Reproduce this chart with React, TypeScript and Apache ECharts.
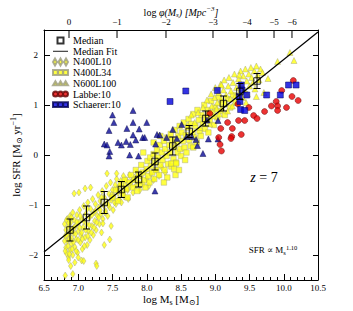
import React, { useEffect, useRef } from 'react';
import * as echarts from 'echarts';

const SERIF = "'Liberation Serif', 'DejaVu Serif', serif";

// Median points with error bars
const medianMs = [6.88, 7.12, 7.38, 7.63, 7.88, 8.12, 8.38, 8.62, 8.86, 9.12, 9.36, 9.61];
const medianSfr = [-1.5, -1.25, -0.95, -0.69, -0.49, -0.13, 0.18, 0.47, 0.73, 1.03, 1.27, 1.48];
const medianErr = [0.22, 0.23, 0.22, 0.16, 0.15, 0.17, 0.18, 0.12, 0.15, 0.15, 0.16, 0.15];

// Median fit line (slope 1.10)
const fitMs = [6.5, 10.5];
const fitSfr = [-1.94, 2.46];

// Top axis: log phi(Ms) tick positions (in log Ms) and labels
const topTickMs = [6.865, 7.566, 8.281, 8.967, 9.464, 9.858, 10.12];
const topTickLabels = ['0', '\u22121', '\u22122', '\u22123', '\u22124', '\u22125', '\u22126'];

const n400l10 = [
  [6.80, -1.38], [6.81, -1.62], [6.82, -1.85], [6.82, -1.50], [6.83, -1.97], [6.84, -1.28], [6.84, -1.72], [6.85, -1.44], [6.86, -2.05], [6.86, -1.58],
  [6.88, -1.22], [6.88, -1.90], [6.89, -1.35], [6.90, -1.66], [6.90, -1.78], [6.91, -1.48], [6.92, -2.00], [6.92, -1.15], [6.93, -1.56], [6.94, -1.30],
  [6.95, -1.84], [6.96, -1.42], [6.97, -1.68], [6.98, -1.20], [6.99, -1.95], [7.00, -1.52], [7.01, -1.35], [7.02, -1.10], [7.03, -1.75], [7.04, -1.60],
  [7.05, -1.28], [7.06, -1.88], [7.07, -1.45], [7.08, -1.02], [7.10, -1.65], [7.11, -1.18], [7.12, -1.38], [7.13, -1.80], [7.14, -0.95], [7.15, -1.52],
  [7.16, -1.25], [7.17, -1.70], [7.18, -1.08], [7.20, -1.42], [7.21, -0.88], [7.22, -1.60], [7.23, -1.15], [7.24, -1.32], [7.25, -0.98], [7.26, -1.50],
  [7.28, -1.22], [7.29, -0.80], [7.30, -1.05], [7.31, -1.38], [7.32, -0.92], [7.33, -1.18], [7.35, -0.72], [7.36, -1.28], [7.37, -1.00], [7.38, -0.85],
  [7.40, -1.12], [7.41, -0.62], [7.42, -0.95], [7.43, -1.22], [7.45, -0.78], [7.46, -1.05], [7.47, -0.55], [7.48, -0.90], [7.50, -0.70], [7.51, -1.10],
  [7.52, -0.82], [7.54, -0.60], [7.55, -0.98], [7.56, -0.48], [7.58, -0.75], [7.59, -0.88], [7.60, -0.62], [7.62, -0.52], [7.63, -0.95], [7.64, -0.72],
  [7.66, -0.42], [7.67, -0.83], [7.68, -0.60], [7.70, -0.50], [7.72, -0.70], [7.73, -0.88], [7.75, -0.40], [7.76, -0.62], [7.78, -0.52], [7.80, -0.75],
  [7.82, -0.45], [7.84, -0.62], [7.86, -0.35], [7.88, -0.55], [7.90, -0.70], [7.92, -0.42], [7.95, -0.58], [7.98, -0.32], [8.00, -0.48], [8.03, -0.62],
  [8.06, -0.38], [8.10, -0.50], [8.14, -0.30], [8.18, -0.42], [8.22, -0.25], [8.27, -0.35],
  [6.80, -1.72], [6.81, -1.92], [6.83, -1.30], [6.83, -1.60], [6.85, -1.82], [6.86, -1.36], [6.87, -1.68], [6.87, -1.98], [6.89, -1.52], [6.90, -1.25],
  [6.91, -1.88], [6.93, -1.74], [6.94, -1.45], [6.96, -1.58], [6.97, -1.92], [6.98, -1.34], [7.00, -1.70], [7.02, -1.45], [7.03, -1.22], [7.05, -1.55],
  [7.06, -1.68], [7.08, -1.32], [7.09, -1.82], [7.11, -1.50], [7.13, -1.08], [7.14, -1.62], [7.16, -1.40], [7.19, -1.55], [7.20, -1.20], [7.23, -1.45],
  [7.25, -1.12], [7.27, -1.35], [7.30, -1.25], [7.32, -1.10], [7.34, -0.85], [7.39, -1.15], [7.44, -1.00], [7.49, -0.80], [7.53, -0.95], [7.57, -0.68],
  [6.81, -2.41], [6.92, -2.38], [6.89, -2.22], [7.05, -2.11], [7.08, -2.12], [7.26, -2.17], [7.27, -2.22], [7.46, -1.69], [7.38, -1.80], [7.34, -1.55],
  [7.36, -1.37], [7.48, -1.42], [6.94, -0.77], [7.01, -0.75], [7.10, -0.67], [7.18, -0.65], [7.42, -0.37], [7.56, -0.37], [6.86, -2.10], [6.95, -2.15], [7.00, -2.05],
];

const n400l34 = [
  [7.50, -0.85], [7.55, -0.70], [7.58, -0.92], [7.62, -0.60], [7.65, -0.78], [7.68, -0.50], [7.70, -0.68], [7.72, -0.85], [7.75, -0.55], [7.77, -0.40],
  [7.80, -0.65], [7.82, -0.50], [7.84, -0.30], [7.86, -0.72], [7.88, -0.42], [7.90, -0.58], [7.92, -0.20], [7.94, -0.35], [7.96, -0.50], [7.98, -0.65],
  [8.00, -0.28], [8.01, -0.12], [8.02, -0.42], [8.04, -0.55], [8.05, -0.05], [8.06, -0.22], [8.08, -0.35], [8.10, 0.02], [8.11, -0.48], [8.12, -0.15],
  [8.14, -0.30], [8.15, 0.10], [8.16, -0.05], [8.18, -0.40], [8.19, 0.20], [8.20, -0.20], [8.22, 0.05], [8.23, -0.10], [8.25, 0.28], [8.26, -0.30],
  [8.27, 0.12], [8.29, -0.02], [8.30, 0.35], [8.31, -0.18], [8.33, 0.20], [8.34, 0.05], [8.35, 0.42], [8.36, -0.23], [8.37, 0.30], [8.39, -0.08],
  [8.40, 0.15], [8.41, 0.50], [8.43, -0.15], [8.44, 0.25], [8.45, 0.05], [8.46, 0.38], [8.48, 0.58], [8.49, 0.12], [8.50, -0.02], [8.51, 0.45],
  [8.53, 0.28], [8.54, 0.65], [8.55, 0.15], [8.57, 0.40], [8.58, 0.05], [8.60, 0.55], [8.61, 0.72], [8.62, 0.30], [8.64, 0.18], [8.65, 0.62],
  [8.67, 0.45], [8.68, 0.82], [8.70, 0.35], [8.71, 0.58], [8.73, 0.25], [8.74, 0.90], [8.76, 0.70], [8.77, 0.48], [8.79, 0.38], [8.80, 0.80],
  [8.82, 0.62], [8.84, 1.00], [8.85, 0.52], [8.87, 0.75], [8.89, 0.90], [8.90, 0.45], [8.92, 0.68], [8.94, 1.08], [8.96, 0.85], [8.98, 0.60],
  [9.00, 0.95], [9.03, 0.75], [9.05, 1.15], [9.08, 0.88], [9.10, 1.02], [9.14, 0.80], [9.18, 1.12], [9.22, 0.95], [9.26, 1.20], [9.30, 1.05],
  [8.36, -0.17], [8.43, -0.17], [8.40, -0.28], [8.56, -0.10], [8.20, 0.38], [8.10, 0.25], [7.95, 0.05], [8.68, 0.15],
  [8.30, -0.45], [8.42, -0.40], [8.25, -0.55], [8.47, -0.30],
];

const n600l100 = [
  [8.70, 0.65], [8.75, 0.85], [8.78, 0.55], [8.82, 0.95], [8.85, 0.72], [8.88, 1.10], [8.90, 0.85], [8.92, 0.62], [8.94, 1.22], [8.95, 0.98],
  [8.97, 0.78], [8.99, 1.15], [9.00, 1.35], [9.02, 0.92], [9.03, 1.05], [9.05, 1.25], [9.06, 0.82], [9.08, 1.42], [9.09, 1.12], [9.10, 0.95],
  [9.12, 1.30], [9.13, 1.50], [9.15, 1.05], [9.16, 1.20], [9.18, 0.88], [9.19, 1.38], [9.20, 1.55], [9.22, 1.12], [9.23, 1.28], [9.25, 0.98],
  [9.26, 1.45], [9.28, 1.62], [9.29, 1.18], [9.31, 1.35], [9.32, 1.05], [9.34, 1.52], [9.35, 1.25], [9.37, 1.68], [9.38, 1.40], [9.40, 1.15],
  [9.41, 1.58], [9.43, 1.30], [9.44, 1.72], [9.46, 1.48], [9.47, 1.22], [9.49, 1.62], [9.50, 1.38], [9.52, 1.75], [9.53, 1.55], [9.55, 1.45],
  [9.57, 1.68], [9.58, 1.32], [9.60, 1.78], [9.62, 1.60], [9.64, 1.50], [9.66, 1.72],
  [10.09, 2.05], [10.15, 1.89], [9.91, 1.87], [9.77, 1.53], [9.60, 1.17], [9.69, 1.65], [9.35, 1.60], [9.09, 1.40], [9.45, 1.05],
  [8.60, 0.60], [8.65, 0.80], [9.71, 1.25],
];

const labbe = [
  [10.14, 1.49], [9.97, 1.29], [10.12, 1.17], [10.21, 1.09], [9.89, 1.07], [9.91, 0.98], [10.04, 0.95], [9.82, 0.98], [9.72, 0.87], [9.91, 0.89],
  [9.56, 0.79], [9.61, 0.73], [9.43, 0.69], [9.34, 0.69], [9.49, 0.95], [9.18, 0.65], [9.25, 0.53], [9.08, 0.53], [9.38, 0.41], [9.24, 0.37],
  [9.23, 0.33], [9.05, 0.35], [9.07, 0.21], [9.09, 0.08], [9.33, 1.02], [8.92, 0.83],
];

const schaerer = [
  [10.07, 1.40], [10.18, 1.40], [9.95, 1.20], [9.75, 1.20], [8.57, 1.28], [9.03, 1.29], [9.38, 1.40], [9.39, 1.30], [9.46, 1.20], [9.35, 1.17],
  [9.36, 1.07], [9.37, 0.91], [9.43, 0.89], [8.34, 1.07],
];

const blueTriangles = [
  [7.50, 0.80], [7.80, 0.89], [7.80, 0.65], [8.00, 0.65], [7.71, 0.53], [7.45, 0.49], [7.89, 0.52], [7.80, 0.40], [7.94, 0.35], [7.97, 0.35],
  [8.15, 0.41], [7.38, 0.22], [7.42, 0.20], [7.46, 0.07], [7.45, -0.02], [7.58, 0.25], [7.63, 0.20], [7.70, 0.27], [7.76, 0.21], [7.84, 0.30],
  [7.75, 0.00], [7.88, -0.02], [8.13, 0.22], [8.29, 0.35], [8.12, -0.72], [8.44, 0.33], [8.19, 0.40], [8.72, 0.31], [8.90, 0.32], [8.74, 0.19],
  [8.82, 0.03], [9.04, 0.32], [8.66, 0.37], [8.58, 0.37], [8.38, 0.51], [8.51, 0.61], [9.04, 0.69], [8.88, 0.70], [7.52, 0.65],
];

const yellowEdge = '#9a9a80';

export default function App() {
  const ref = useRef<HTMLDivElement>(null);
  useEffect(() => {
    document.body.style.margin = '0';
    if (!ref.current) return;
    const chart = echarts.init(ref.current, undefined, { renderer: 'svg' });
    const errData = medianMs.map((m, i) => [m, medianSfr[i], medianSfr[i] - medianErr[i], medianSfr[i] + medianErr[i]]);
    const labelStyle = { color: '#000', fontFamily: SERIF, fontSize: 9 };
    const nStyle = (size: number) => ({ fontFamily: SERIF, fontSize: size, lineHeight: size + 3, fill: '#000', color: '#000' });
    const subStyle = (size: number) => ({ fontFamily: SERIF, fontSize: size, lineHeight: 6, verticalAlign: 'bottom', color: '#000' });
    const supStyle = (size: number) => ({ fontFamily: SERIF, fontSize: size, lineHeight: 7, verticalAlign: 'top', color: '#000' });

    chart.setOption({
      animation: false,
      grid: { left: 44, right: 35, top: 30, bottom: 31, containLabel: false },
      xAxis: [
        {
          type: 'value', min: 6.5, max: 10.5, interval: 0.5, position: 'bottom',
          axisLine: { show: true, onZero: false, lineStyle: { color: '#000', width: 1 } },
          axisTick: { show: true, inside: true, length: 6, lineStyle: { color: '#000' } },
          minorTick: { show: true, splitNumber: 5, length: 3, lineStyle: { color: '#000' } },
          axisLabel: { ...labelStyle, margin: 3, formatter: (v: number) => v.toFixed(1) },
          splitLine: { show: false },
        },
        {
          type: 'value', min: 6.5, max: 10.5, position: 'top',
          axisLine: { show: true, onZero: false, lineStyle: { color: '#000', width: 1 } },
          axisTick: { show: false }, axisLabel: { show: false }, splitLine: { show: false },
        },
      ],
      yAxis: [
        {
          type: 'value', min: -2.5, max: 2.5, splitNumber: 5, position: 'left',
          axisLine: { show: true, onZero: false, lineStyle: { color: '#000', width: 1 } },
          axisTick: { show: true, inside: true, length: 6, lineStyle: { color: '#000' } },
          axisLabel: {
            ...labelStyle, margin: 6,
            formatter: (v: number) => (Number.isInteger(v) ? String(v).replace('-', '\u2212') : ''),
          },
          splitLine: { show: false },
        },
        {
          type: 'value', min: -2.5, max: 2.5, splitNumber: 5, position: 'right',
          axisLine: { show: true, onZero: false, lineStyle: { color: '#000', width: 1 } },
          axisTick: { show: true, inside: true, length: 5, lineStyle: { color: '#000' } },
          axisLabel: { show: false }, splitLine: { show: false },
        },
      ],
      legend: {
        orient: 'vertical', left: 52, top: 35.5, padding: 0,
        itemWidth: 15, itemHeight: 7, itemGap: 0.7, selectedMode: false,
        textStyle: { fontFamily: SERIF, fontSize: 10, color: '#000' },
        data: [
          { name: 'Median', icon: 'path://M0,0M15,7M4.5,0.5h6v6h-6Z' },
          { name: 'Median Fit', icon: 'path://M0,0M15,7M0,3.1h15v0.9h-15Z', itemStyle: { color: '#000', borderWidth: 0 } },
          { name: 'N400L10', icon: 'path://M0,3.5L2,0L4,3.5L2,7Z M5.5,3.5L7.5,0L9.5,3.5L7.5,7Z M11,3.5L13,0L15,3.5L13,7Z' },
          { name: 'N400L34', icon: 'path://M0,0M15,7M0,1h4.8v4.8h-4.8Z M5.1,1h4.8v4.8h-4.8Z M10.2,1h4.8v4.8h-4.8Z' },
          { name: 'N600L100', icon: 'path://M0,0M15,7M0,5.5L2.4,1.5L4.8,5.5Z M5.1,5.5L7.5,1.5L9.9,5.5Z M10.2,5.5L12.6,1.5L15,5.5Z' },
          { name: 'Labbe:10', icon: 'path://M0,0M15,7M0,3.5a2.5,2.5 0 1,0 5,0a2.5,2.5 0 1,0 -5,0Z M5,3.5a2.5,2.5 0 1,0 5,0a2.5,2.5 0 1,0 -5,0Z M10,3.5a2.5,2.5 0 1,0 5,0a2.5,2.5 0 1,0 -5,0Z' },
          { name: 'Schaerer:10', icon: 'path://M0,0M15,7M0,1h4.8v4.8h-4.8Z M5.1,1h4.8v4.8h-4.8Z M10.2,1h4.8v4.8h-4.8Z' },
        ],
      },
      series: [
        {
          name: 'N400L10', type: 'scatter', data: n400l10, symbol: 'diamond', symbolSize: [4.5, 7],
          itemStyle: { color: '#ffff10', borderColor: yellowEdge, borderWidth: 0.5 },
        },
        {
          name: 'N400L34', type: 'scatter', data: n400l34, symbol: 'rect', symbolSize: 5.5,
          itemStyle: { color: '#ffff10', borderColor: yellowEdge, borderWidth: 0.5 },
        },
        {
          name: 'N600L100', type: 'scatter', data: n600l100, symbol: 'triangle', symbolSize: 6,
          itemStyle: { color: '#ffff10', borderColor: yellowEdge, borderWidth: 0.5 },
        },
        {
          name: 'Other', type: 'scatter', data: blueTriangles, symbol: 'triangle', symbolSize: 6,
          itemStyle: { color: '#0a0a96', borderColor: '#000040', borderWidth: 0.5 },
        },
        {
          name: 'Labbe:10', type: 'scatter', data: labbe, symbol: 'circle', symbolSize: 6,
          itemStyle: { color: '#e80000', borderColor: '#600000', borderWidth: 0.6 },
        },
        {
          name: 'Schaerer:10', type: 'scatter', data: schaerer, symbol: 'rect', symbolSize: 6,
          itemStyle: { color: '#0000dd', borderColor: '#000050', borderWidth: 0.6 },
        },
        {
          name: 'Median Fit', type: 'line', data: fitMs.map((m, i) => [m, fitSfr[i]]), symbol: 'none',
          lineStyle: { color: '#000', width: 1.2 }, itemStyle: { color: '#000' }, z: 5,
        },
        {
          name: 'Error', type: 'custom', data: errData, z: 6, silent: true,
          encode: { x: 0, y: [2, 3] },
          renderItem: (params: any, api: any) => {
            const x = api.value(0);
            const p1 = api.coord([x, api.value(2)]);
            const p2 = api.coord([x, api.value(3)]);
            const w = 3.5;
            const st = { stroke: '#000', lineWidth: 1 };
            return {
              type: 'group',
              children: [
                { type: 'line', shape: { x1: p1[0], y1: p1[1], x2: p2[0], y2: p2[1] }, style: st },
                { type: 'line', shape: { x1: p1[0] - w, y1: p1[1], x2: p1[0] + w, y2: p1[1] }, style: st },
                { type: 'line', shape: { x1: p2[0] - w, y1: p2[1], x2: p2[0] + w, y2: p2[1] }, style: st },
              ],
            };
          },
        },
        {
          name: 'Median', type: 'scatter', data: medianMs.map((m, i) => [m, medianSfr[i]]), symbol: 'rect', symbolSize: 6.5, z: 7,
          itemStyle: { color: 'rgba(0,0,0,0)', borderColor: '#000', borderWidth: 1 },
        },
        {
          name: 'TopTicks', type: 'custom', data: topTickMs.map((m, i) => [m, i]), clip: false, silent: true, z: 8,
          renderItem: (params: any, api: any) => {
            const p = api.coord([api.value(0), 2.5]);
            const idx = api.value(1);
            return {
              type: 'group',
              children: [
                { type: 'line', shape: { x1: p[0], y1: p[1], x2: p[0], y2: p[1] + 8 }, style: { stroke: '#000', lineWidth: 1 } },
                {
                  type: 'text', x: p[0], y: p[1] - 4,
                  style: { text: topTickLabels[idx], fill: '#000', font: `9px ${SERIF}`, align: 'center', verticalAlign: 'bottom' },
                },
              ],
            };
          },
        },
      ],
      graphic: [
        {
          type: 'text', x: 181, y: 12,
          style: {
            text: '{n|log }{i|\u03c6(M}{isub|s}{i|) [Mpc}{isup|\u22123}{i|]}',
            align: 'center', verticalAlign: 'middle',
            rich: {
              n: nStyle(10),
              i: { ...nStyle(10), fontStyle: 'italic' },
              isub: { ...subStyle(7), fontStyle: 'italic' },
              isup: { ...supStyle(7), fontStyle: 'italic' },
            },
          },
        },
        {
          type: 'text', x: 171, y: 299,
          style: {
            text: '{n|log M}{sub|s}{n| [M}{sub|\u2299}{n|]}',
            align: 'center', verticalAlign: 'middle',
            rich: { n: nStyle(11), sub: subStyle(8) },
          },
        },
        {
          type: 'text', x: 16, y: 155, rotation: Math.PI / 2,
          style: {
            text: '{n|log SFR [M}{sub|\u2299}{n| yr}{sup|\u22121}{n|]}',
            align: 'center', verticalAlign: 'middle',
            rich: { n: nStyle(11), sub: subStyle(8), sup: supStyle(8) },
          },
        },
        {
          type: 'text', x: 264, y: 177,
          style: {
            text: '{i|z}{n| = 7}',
            align: 'center', verticalAlign: 'middle',
            rich: { n: nStyle(14), i: { ...nStyle(14), fontStyle: 'italic' } },
          },
        },
        {
          type: 'text', x: 273, y: 250,
          style: {
            text: '{n|SFR \u221d M}{sub|s}{sup|1.10}',
            align: 'center', verticalAlign: 'middle',
            rich: { n: nStyle(9), sub: subStyle(6.5), sup: supStyle(6.5) },
          },
        },
      ],
    });
    return () => chart.dispose();
  }, []);
  return <div ref={ref} style={{ width: 353, height: 311 }} />;
}
